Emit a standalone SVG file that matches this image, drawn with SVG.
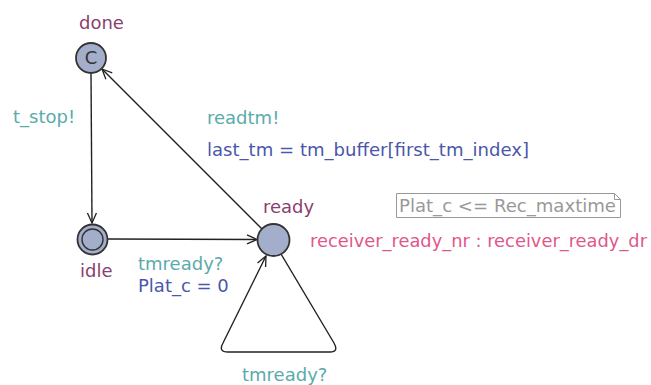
<svg xmlns="http://www.w3.org/2000/svg" width="651" height="385" viewBox="0 0 651 385">
<defs>
<marker id="arr" viewBox="0 0 12 12" refX="11" refY="6" markerWidth="12" markerHeight="12" markerUnits="userSpaceOnUse" orient="auto">
<path d="M1,1.5 L11,6 L1,10.5" fill="none" stroke="#222" stroke-width="1.3"/>
</marker>
<style>
text{font-family:"DejaVu Sans",sans-serif;font-size:18px}
.loc{fill:#a3aecb;stroke:#333;stroke-width:1.8}
.name{fill:#8a3f6e}
.sync{fill:#5aabab}
.assign{fill:#4a57aa}
.rate{fill:#e0578a}
.inv{fill:#999}
.edge{fill:none;stroke:#222;stroke-width:1.4}
</style>
</defs>
<rect width="651" height="385" fill="#fff"/>
<g id="connectors">
<line class="edge" x1="91" y1="73" x2="92" y2="223" marker-end="url(#arr)"/>
<line class="edge" x1="108" y1="239" x2="257" y2="239.5" marker-end="url(#arr)"/>
<line class="edge" x1="262" y1="229" x2="102" y2="69" marker-end="url(#arr)"/>
<path class="edge" d="M281,254 L334,343 Q339,352 330,352 L228,352 Q218,352 223,343 L266,256" marker-end="url(#arr)"/>
</g>
<g id="done">
<circle class="loc" cx="91" cy="58" r="15"/>
<text x="91" y="64" text-anchor="middle" fill="#333" font-size="17">C</text>
<text class="name" x="79" y="29">done</text>
</g>
<g id="idle">
<circle class="loc" cx="92.5" cy="239.5" r="15"/>
<circle cx="92.5" cy="239.5" r="10.5" fill="none" stroke="#333" stroke-width="1.4"/>
<text class="name" x="80" y="277">idle</text>
</g>
<g id="ready">
<circle class="loc" cx="273.5" cy="240" r="16"/>
<text class="name" x="263" y="213">ready</text>
<path d="M396.5,193.5 H614.5 L620.5,199.5 V217.5 H396.5 Z M614.5,193.5 V199.5 H620.5" fill="#fff" stroke="#999" stroke-width="1"/>
<text class="inv" x="399" y="212" textLength="217" lengthAdjust="spacingAndGlyphs">Plat_c &lt;= Rec_maxtime</text>
<text class="rate" x="310" y="247" textLength="337" lengthAdjust="spacingAndGlyphs">receiver_ready_nr : receiver_ready_dr</text>
</g>
<g id="labels">
<text class="sync" x="13" y="123">t_stop!</text>
<text class="sync" x="207" y="124">readtm!</text>
<text class="assign" x="207" y="156" textLength="322" lengthAdjust="spacingAndGlyphs">last_tm = tm_buffer[first_tm_index]</text>
<text class="sync" x="138" y="270">tmready?</text>
<text class="assign" x="138" y="292">Plat_c = 0</text>
<text class="sync" x="242" y="381">tmready?</text>
</g>
</svg>
